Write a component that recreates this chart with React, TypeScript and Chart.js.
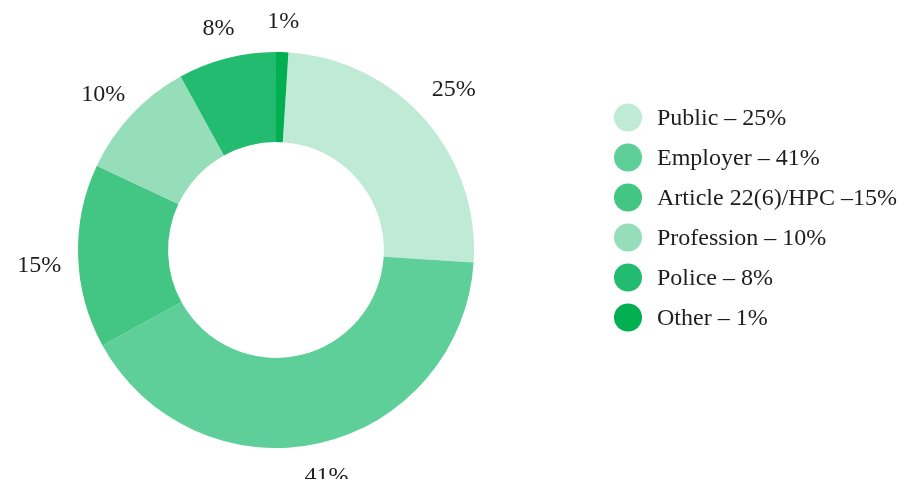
import React, { useEffect, useRef } from "react";
import { Chart, registerables } from "chart.js";

Chart.register(...registerables);

const categories = ["Public", "Employer", "Article 22(6)/HPC", "Profession", "Police", "Other"];
const values = [25, 41, 15, 10, 8, 1];
const legendTexts = ["Public – 25%", "Employer – 41%", "Article 22(6)/HPC –15%", "Profession – 10%", "Police – 8%", "Other – 1%"];
const sliceLabels = ["25%", "41%", "15%", "10%", "8%", "1%"];
const colors = ["#bfebd6", "#5ecf98", "#43c584", "#95deb9", "#22bb6f", "#00b050"];

const FONT = "24px 'Liberation Serif', 'DejaVu Serif', serif";

const labelPlugin = {
  id: "outerLabels",
  afterDraw(chart: any) {
    const ctx = chart.ctx;
    const meta = chart.getDatasetMeta(0);
    ctx.save();
    ctx.font = FONT;
    ctx.fillStyle = "#1e1e1e";
    ctx.textAlign = "center";
    ctx.textBaseline = "middle";
    meta.data.forEach((arc: any, i: number) => {
      const p = arc.getProps(["x", "y", "startAngle", "endAngle", "outerRadius"], true);
      const mid = (p.startAngle + p.endAngle) / 2;
      const dx = Math.cos(mid);
      const dy = Math.sin(mid);
      const text = sliceLabels[i];
      const hw = ctx.measureText(text).width / 2;
      const hh = 9;
      const d = p.outerRadius + 26 + 0.58 * (hw * Math.abs(dx) + hh * Math.abs(dy));
      ctx.fillText(text, p.x + dx * d, p.y + dy * d - 7 * dx + 1.5);
    });
    ctx.restore();
  },
};

const legendPlugin = {
  id: "sideLegend",
  afterDraw(chart: any) {
    const ctx = chart.ctx;
    ctx.save();
    ctx.font = FONT;
    ctx.textAlign = "left";
    ctx.textBaseline = "middle";
    legendTexts.forEach((t, i) => {
      const cy = 109.5 + i * 40;
      ctx.beginPath();
      ctx.fillStyle = colors[i];
      ctx.arc(620, cy, 14, 0, Math.PI * 2);
      ctx.fill();
      ctx.fillStyle = "#1e1e1e";
      ctx.fillText(t, 649, cy + 1.5);
    });
    ctx.restore();
  },
};

export default function App() {
  const ref = useRef<HTMLCanvasElement>(null);
  useEffect(() => {
    if (!ref.current) return;
    const chart = new Chart(ref.current, {
      type: "doughnut",
      data: {
        labels: categories,
        datasets: [
          {
            data: values,
            backgroundColor: colors,
            borderWidth: 0,
            hoverOffset: 0,
          },
        ],
      },
      options: {
        responsive: false,
        animation: false,
        rotation: 3.6,
        cutout: "54.5%",
        layout: { padding: { left: 70, right: 434, top: 44, bottom: 39 } },
        plugins: {
          legend: { display: false },
          tooltip: { enabled: false },
        },
      },
      plugins: [labelPlugin, legendPlugin],
    });
    return () => chart.destroy();
  }, []);
  return (
    <div style={{ height: 479, marginBottom: -8 }}>
      <canvas ref={ref} width={900} height={479} style={{ display: "block" }} />
    </div>
  );
}
